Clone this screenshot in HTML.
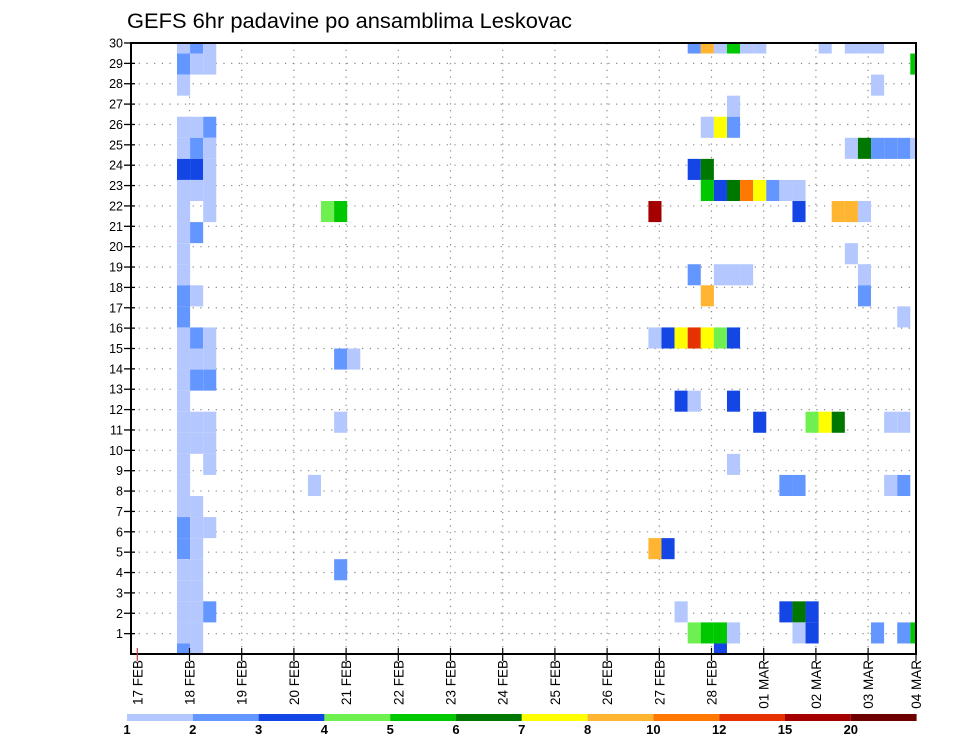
<!DOCTYPE html>
<html><head><meta charset="utf-8"><style>
html,body{margin:0;padding:0;background:#fff;}
svg{display:block;font-family:"Liberation Sans",sans-serif;}
</style></head><body>
<svg id="chart" width="960" height="742" viewBox="0 0 960 742">
<text x="127" y="28" font-size="21" textLength="445" lengthAdjust="spacingAndGlyphs">GEFS 6hr padavine po ansamblima Leskovac</text>
<g id="grid"></g>
<g id="cells"></g>
<rect x="131" y="43" width="785" height="611" fill="none" stroke="#000" stroke-width="2"/>
<g id="yaxis"></g>
<g id="xaxis"></g>
<g id="legend"></g>
</svg>
<script>
// ---- data ----
const dayLabels = ["17 FEB","18 FEB","19 FEB","20 FEB","21 FEB","22 FEB","23 FEB","24 FEB","25 FEB","26 FEB","27 FEB","28 FEB","01 MAR","02 MAR","03 MAR","04 MAR"];
const memberTicks = [1,2,3,4,5,6,7,8,9,10,11,12,13,14,15,16,17,18,19,20,21,22,23,24,25,26,27,28,29,30];
const legendLabels = ["1","2","3","4","5","6","7","8","10","12","15","20"];
const levelColors = ["#b4c8ff","#6496ff","#1446e6","#6ef050","#00c800","#007800","#ffff00","#ffb432","#ff7800","#e63200","#a50000","#6e0000"];
// cells: 6-hour step index, ensemble row index, colour level
const cellStep = [
3,4,5, 3,4,5, 3, 3,4,5, 3,4,5, 3,4,5, 3,4,5, 3,5,14,15, 3,4, 3, 3, 3,4, 3, 3,4,5, 3,4,5,15,16, 3,4,5, 3, 3,4,5,15, 3,4,5, 3,5, 3,13, 3,4, 3,4,5, 3,4, 3,4,15, 3,4, 3,4,5, 3,4, 3,4,
42,43,44,45,46,47,52,54,55,56, 59, 56, 45, 43,44,45, 54,55,56,57,58,59, 42,43, 43,44,45,46,47,48,49,50, 39,50,53,54,55, 54, 42,44,45,46,55, 43,55, 58, 39,40,41,42,43,44,45, 41,42,45, 47,51,52,53,57,58, 45, 49,50,57,58, 39,40, 41,49,50,51, 42,43,44,45,50,51,56,58,59, 44];
const cellMember = [
29,29,29, 28,28,28, 27, 25,25,25, 24,24,24, 23,23,23, 22,22,22, 21,21,21,21, 20,20, 19, 18, 17,17, 16, 15,15,15, 14,14,14,14,14, 13,13,13, 12, 11,11,11,11, 10,10,10, 9,9, 8,8, 7,7, 6,6,6, 5,5, 4,4,4, 3,3, 2,2,2, 1,1, 0,0,
29,29,29,29,29,29,29,29,29,29, 28, 27, 26, 25,25,25, 24,24,24,24,24,24, 23,23, 22,22,22,22,22,22,22,22, 21,21,21,21,21, 19, 18,18,18,18,18, 17,17, 16, 15,15,15,15,15,15,15, 12,12,12, 11,11,11,11,11,11, 9, 8,8,8,8, 5,5, 2,2,2,2, 1,1,1,1,1,1,1,1,1, 0];
const cellLevel = [
0,1,0, 1,0,0, 0, 0,0,1, 0,1,0, 2,2,0, 0,0,0, 0,0,3,4, 0,1, 0, 0, 1,0, 1, 0,1,0, 0,0,0,1,0, 0,1,1, 0, 0,0,0,0, 0,0,0, 0,0, 0,0, 0,0, 1,0,0, 1,0, 0,0,1, 0,0, 0,0,1, 0,0, 1,0,
1,7,0,4,0,0,0,0,0,0, 4, 0, 0, 0,6,1, 0,5,1,1,1,0, 2,5, 4,2,5,8,6,1,0,0, 10,2,7,7,0, 0, 1,0,0,0,0, 7,1, 0, 0,2,6,9,6,3,2, 2,0,2, 2,3,6,5,0,0, 0, 1,1,0,1, 7,2, 0,2,5,2, 3,4,4,0,0,2,1,1,4, 2];

// ---- scales ----
const X0 = 137.3, DAY = 52.2, CX0 = 137.7, STEP = 13.095, XR = 916, YB = 654, YT = 43;
const ROW = (YB-YT)/29, TICK = (YB-YT)/30;
function dayX(d){ return Math.min(X0 + DAY*d, XR); }
function stepX(j){ return CX0 + STEP*j; }
function memberY(k){ return YB - ROW*k; }
function tickY(r){ return YB - TICK*r; }
const NS = "http://www.w3.org/2000/svg";
function mk(tag, attrs, parent){
  const e = document.createElementNS(NS, tag);
  for (const k in attrs) e.setAttribute(k, attrs[k]);
  parent.appendChild(e); return e;
}

// grid
const grid = document.getElementById('grid');
for (let d=1; d<dayLabels.length-1; d++){
  const l = mk('line',{x1:dayX(d),x2:dayX(d),y1:YT,y2:YB,stroke:'#888','stroke-width':1.2,'stroke-dasharray':'1.2 5.5'},grid);
  
  
}
for (let i=0;i<memberTicks.length-1;i++){
  const y = tickY(memberTicks[i]);
  const l = mk('line',{x1:131,x2:XR,y1:y,y2:y,stroke:'#888','stroke-width':1.2,'stroke-dasharray':'1.2 6.5'},grid);
  
  
}

// cells
const cells = document.getElementById('cells');
for (let i=0;i<cellStep.length;i++){
  let x1 = stepX(cellStep[i]), x2 = Math.min(x1+STEP, XR);
  const c = memberY(cellMember[i]);
  let y1 = Math.max(c-ROW/2, YT), y2 = Math.min(c+ROW/2, YB);
  const r = mk('rect',{x:x1,y:y1,width:x2-x1,height:y2-y1,fill:levelColors[cellLevel[i]]},cells);
  
  
}

// y axis
const ya = document.getElementById('yaxis');
memberTicks.forEach(r=>{
  const y = tickY(r);
  const t = mk('line',{x1:124,x2:135,y1:y,y2:y,stroke:'#000','stroke-width':1.3},ya);
  
  
  const tx = mk('text',{x:123,y:y+4.5,'font-size':12.5,'text-anchor':'end',fill:'#000'},ya);
  tx.textContent = r;
  
  
});

// x axis
const xa = document.getElementById('xaxis');
dayLabels.forEach((lab,d)=>{
  const x = dayX(d);
  const t = mk('line',{x1:x,x2:x,y1:648,y2:661,stroke:d===0?'#c04040':'#000','stroke-width':1.2},xa);
  
  
  const tx = mk('text',{x:0,y:0,'font-size':13.5,'text-anchor':'end',fill:'#000',transform:`translate(${x+5},660) rotate(-90)`},xa);
  tx.textContent = lab;
  
  
});

// legend
const lg = document.getElementById('legend');
const LX = 127, LW = 65.8;
levelColors.forEach((col,i)=>{
  const r = mk('rect',{x:LX+LW*i,y:714,width:LW,height:7,fill:col},lg);
  
  
});
legendLabels.forEach((lab,i)=>{
  const t = mk('text',{x:LX+LW*i,y:734,'font-size':13,'font-weight':'bold','text-anchor':'middle',fill:'#000'},lg);
  t.textContent = lab;
  
  
});
</script>
</body></html>
